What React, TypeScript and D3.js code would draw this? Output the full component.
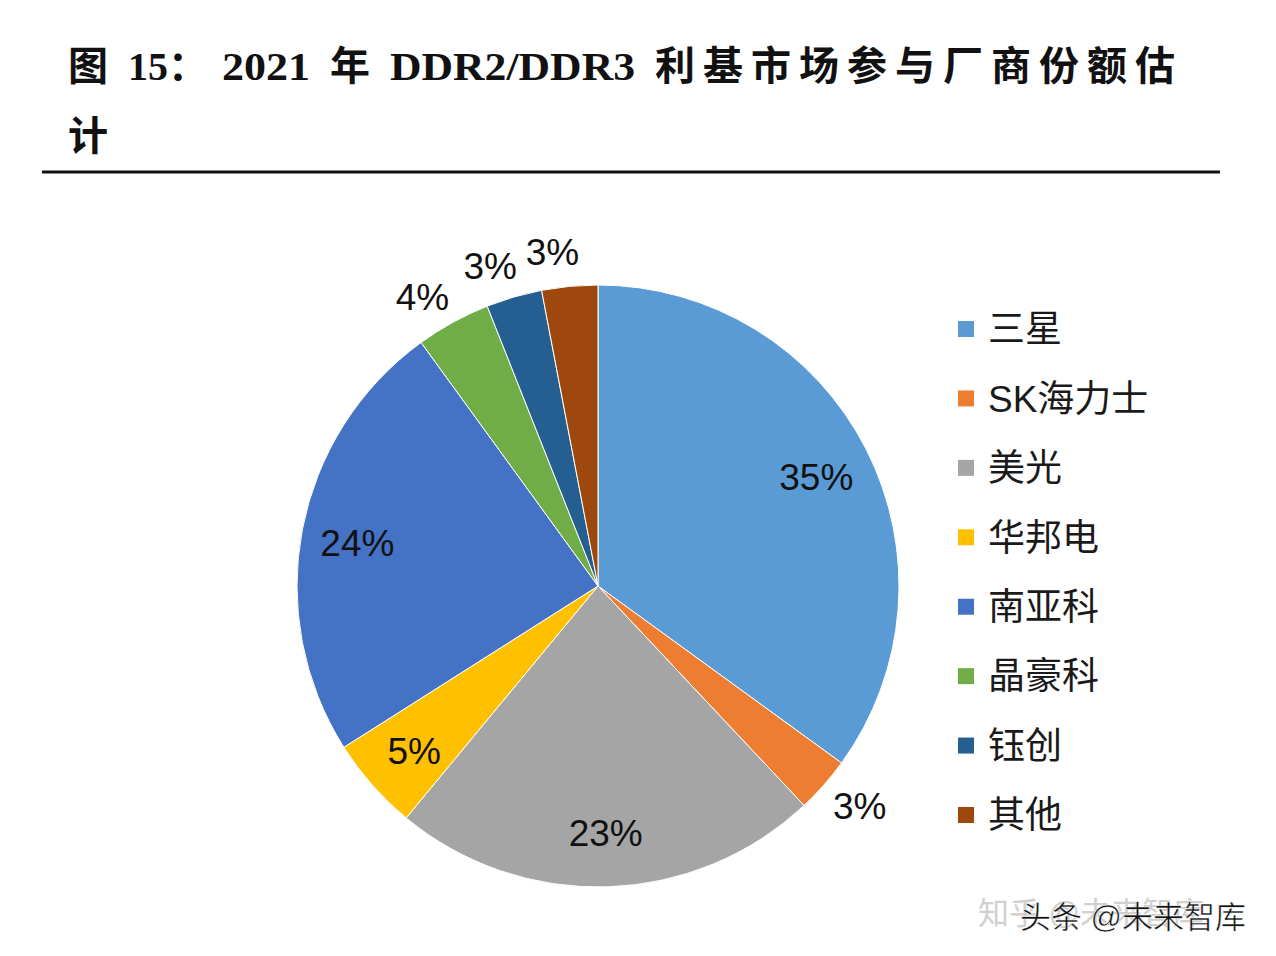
import React from "react";
import * as d3 from "d3";

const categories = ["三星", "SK海力士", "美光", "华邦电", "南亚科", "晶豪科", "钰创", "其他"];
const shares = [35, 3, 23, 5, 24, 4, 3, 3];
const colors = ["#5B9BD5", "#ED7D31", "#A5A5A5", "#FFC000", "#4472C4", "#70AD47", "#255E91", "#9E480E"];
const outside = [false, true, false, false, false, true, true, true];

const titleParts = ["图", "15：", "2021", "年", "DDR2/DDR3", "利基市场参与厂商份额估"];
const titleLine2 = "计";

export default function App() {
  const W = 1276, H = 956;
  const cx = 598, cy = 586, r = 301;
  const pie = d3.pie<number>().value((d) => d).sort(null);
  const arcs = pie(shares);
  const arc = d3.arc<d3.PieArcDatum<number>>().innerRadius(0).outerRadius(r);
  const inLabel = d3.arc<d3.PieArcDatum<number>>().innerRadius(245).outerRadius(245);
  const outLabel = d3.arc<d3.PieArcDatum<number>>().innerRadius(340).outerRadius(340);
  const legendY = d3.scalePoint<number>().domain(d3.range(categories.length)).range([329, 815]);
  const serif = "'Liberation Serif', 'Noto Sans CJK SC', serif";
  const sans = "'Liberation Sans', Arial, 'Noto Sans CJK SC', sans-serif";

  const titleX = [68, 128, 222, 330, 390, 655];
  const titleLen = [null, null, 88, null, 245, 520];
  const titleAdj = ["", "", "spacingAndGlyphs", "", "spacingAndGlyphs", "spacing"];

  return (
    <svg width={W} height={H} style={{ position: "absolute", left: 0, top: 0, background: "#fff" }}>
      <rect width={W} height={H} fill="#fff" />
      {titleParts.map((t, i) => (
        <text key={"t" + i} x={titleX[i]} y={80} fontFamily={serif} fontWeight="bold" fontSize={40} fill="#111"
          {...(titleLen[i] ? { textLength: titleLen[i] as number, lengthAdjust: titleAdj[i] } : {})}>{t}</text>
      ))}
      <text x={68} y={150} fontFamily={serif} fontWeight="bold" fontSize={40} fill="#111">{titleLine2}</text>
      <line x1={42} x2={1220} y1={172} y2={172} stroke="#111" strokeWidth={3} />
      <g transform={`translate(${cx},${cy})`}>
        {arcs.map((a, i) => (
          <path key={i} d={arc(a) || ""} fill={colors[i]} stroke="#fff" strokeWidth={1} />
        ))}
        {arcs.map((a, i) => {
          let x: number, y: number;
          if (outside[i]) {
            const shift = i === 1 ? -0.03 : -0.04;
            const a2 = { ...a, startAngle: a.startAngle + shift, endAngle: a.endAngle + shift };
            [x, y] = outLabel.centroid(a2);
          } else {
            [x, y] = inLabel.centroid(a);
          }
          return (
            <text key={"l" + i} x={x} y={y} dy="0.42em" textAnchor="middle"
              fontFamily={sans} fontSize={37} fill="#111">{shares[i]}%</text>
          );
        })}
      </g>
      {categories.map((c, i) => (
        <g key={"lg" + i} transform={`translate(958,${legendY(i)})`}>
          <rect x={0} y={-8} width={16} height={16} fill={colors[i]} />
          <text x={30} y={0} dy="0.36em" fontFamily={sans} fontSize={37} fill="#1a1a1a">{c}</text>
        </g>
      ))}
      <text x={978} y={924} fontFamily={sans} fontSize={31} fill="#d0d0d0">知乎 @未来智库</text>
      <text x={1020} y={928} fontFamily={sans} fontSize={31} fill="#111" stroke="#fff" strokeWidth={0.5}>头条 @未来智库</text>
    </svg>
  );
}
